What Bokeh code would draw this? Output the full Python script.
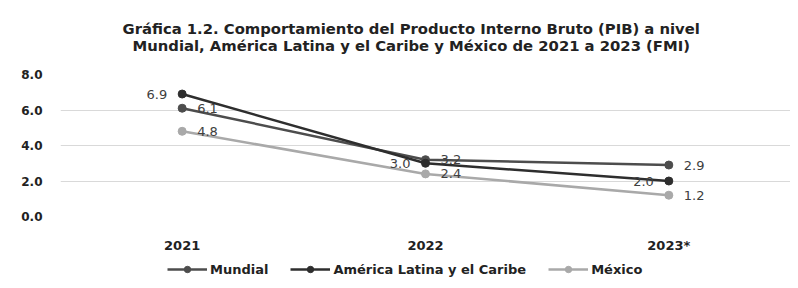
from bokeh.plotting import figure
from bokeh.layouts import column
from bokeh.models import (FactorRange, Range1d, Title, Legend, LegendItem,
                          ColumnDataSource, LabelSet, FixedTicker, NumeralTickFormatter)
from bokeh.core.properties import value
from bokeh.embed import file_html
from bokeh.resources import INLINE

years = ["2021", "2022", "2023*"]
mundial = [6.1, 3.2, 2.9]
latam = [6.9, 3.0, 2.0]
mexico = [4.8, 2.4, 1.2]
series_names = ["Mundial", "América Latina y el Caribe", "México"]
colors = ["#4d4d4d", "#2e2e2e", "#a9a9a9"]
label_side = ["right", "left", "right"]
yticks = [0, 2, 4, 6, 8]
title_line1 = "Gráfica 1.2. Comportamiento del Producto Interno Bruto (PIB) a nivel"
title_line2 = "Mundial, América Latina y el Caribe y México de 2021 a 2023 (FMI)"

FONT = "DejaVu Sans"

p = figure(x_range=FactorRange(*years), y_range=Range1d(0, 8),
           frame_width=730, frame_height=142, output_backend="svg", toolbar_location=None,
           min_border_left=60, min_border_right=0, min_border_top=74, min_border_bottom=32)
p.outline_line_color = None
p.background_fill_color = "white"

# legend strip: same series, y range chosen so that only the legend shows
p2 = figure(x_range=FactorRange(*years), y_range=Range1d(100, 101),
            width=790, height=40, output_backend="svg", toolbar_location=None,
            x_axis_location=None, y_axis_location=None,
            min_border_left=0, min_border_right=0, min_border_top=0, min_border_bottom=0)
p2.outline_line_color = None
p2.xgrid.grid_line_color = None
p2.ygrid.grid_line_color = None

legend_items = []
for name, vals, col, side in zip(series_names, [mundial, latam, mexico], colors, label_side):
    src = ColumnDataSource(dict(x=years, y=vals, t=[f"{v:.1f}" for v in vals]))
    p.line("x", "y", source=src, line_color=col, line_width=2.5)
    p.scatter("x", "y", source=src, size=8, fill_color=col, line_color=col)
    off = 15 if side == "right" else -15
    lbl = LabelSet(x="x", y="y", text="t", source=src, x_offset=off, y_offset=0,
                   text_align="left" if side == "right" else "right",
                   text_baseline="middle",
                   text_font=value(FONT), text_font_size="13px", text_color="#404040")
    p.add_layout(lbl)
    l2 = p2.line("x", "y", source=src, line_color=col, line_width=2.5)
    s2 = p2.scatter("x", "y", source=src, size=7, fill_color=col, line_color=col)
    legend_items.append(LegendItem(label=name, renderers=[l2, s2]))

p.yaxis.ticker = FixedTicker(ticks=yticks)
p.yaxis.formatter = NumeralTickFormatter(format="0.0")
p.yaxis.axis_line_color = None
p.yaxis.major_tick_line_color = None
p.yaxis.minor_tick_line_color = None
p.yaxis.major_label_text_font = FONT
p.yaxis.major_label_text_font_style = "bold"
p.yaxis.major_label_text_font_size = "12px"
p.yaxis.major_label_text_color = "#222222"
p.yaxis.major_label_standoff = 12

p.xaxis.axis_line_color = None
p.xaxis.major_tick_line_color = None
p.xaxis.minor_tick_line_color = None
p.xaxis.major_label_text_font = FONT
p.xaxis.major_label_text_font_style = "bold"
p.xaxis.major_label_text_font_size = "13px"
p.xaxis.major_label_text_color = "#222222"
p.xaxis.major_label_standoff = 15

p.xgrid.grid_line_color = None
p.ygrid.grid_line_color = "#d9d9d9"
p.ygrid.grid_line_width = 1

legend = Legend(items=legend_items, orientation="horizontal", location=(107, 18),
                label_text_font=FONT, label_text_font_style="bold",
                label_text_font_size="13px", label_text_color="#222222",
                glyph_width=40, glyph_height=16, label_standoff=3, spacing=22,
                label_height=16,
                border_line_color=None, background_fill_alpha=0,
                padding=0, margin=0)
p2.add_layout(legend)

t2 = Title(text=title_line2, align="left", offset=72,
           text_font=FONT, text_font_style="bold",
           text_font_size="14.8px", text_color="#222222", standoff=42)
t1 = Title(text=title_line1, align="left", offset=62,
           text_font=FONT, text_font_style="bold",
           text_font_size="14.8px", text_color="#222222", standoff=-46)
p.add_layout(t2, "above")
p.add_layout(t1, "above")

layout = column(p, p2, spacing=0)
open("out.html", "w").write(file_html(layout, INLINE))
